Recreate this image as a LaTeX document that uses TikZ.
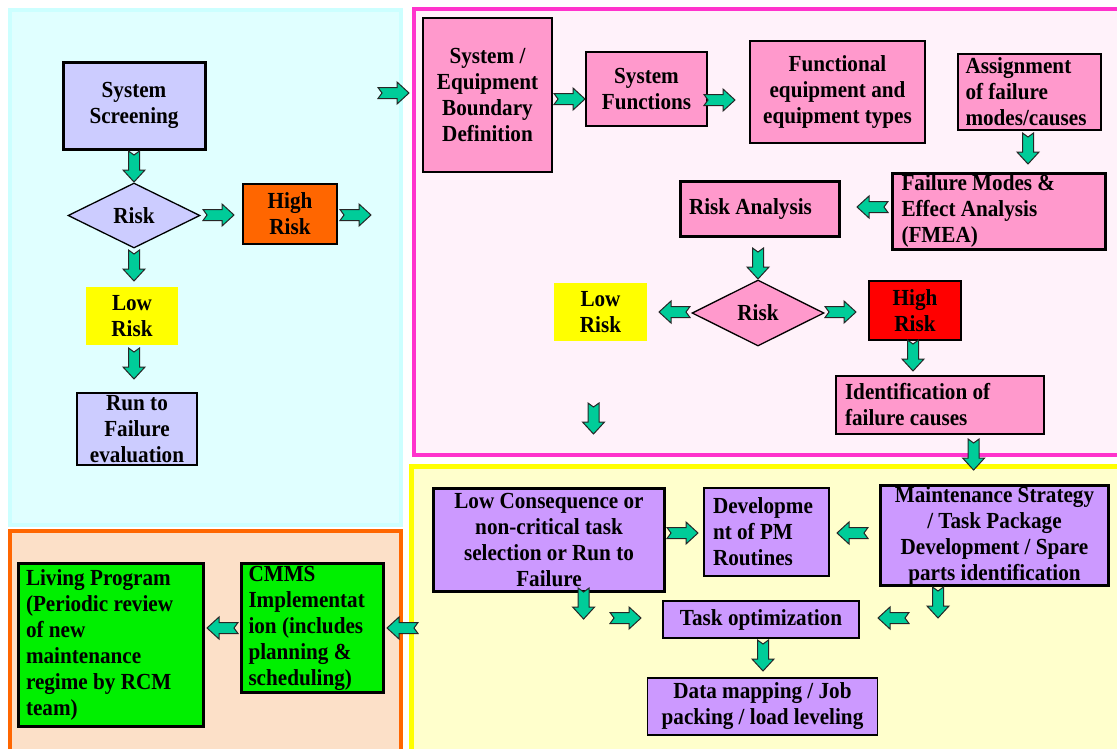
\documentclass[tikz,border=0pt]{standalone}
\usepackage{fontspec}
\setmainfont{Liberation Serif}[FakeStretch=0.92]
\usetikzlibrary{shapes.geometric}
\definecolor{cyanF}{RGB}{224,255,255}
\definecolor{cyanB}{RGB}{204,255,255}
\definecolor{pinkF}{RGB}{255,242,250}
\definecolor{pinkB}{RGB}{255,51,204}
\definecolor{yelF}{RGB}{255,255,204}
\definecolor{yelB}{RGB}{255,255,0}
\definecolor{oraF}{RGB}{252,224,200}
\definecolor{oraB}{RGB}{255,102,0}
\definecolor{lav}{RGB}{204,204,255}
\definecolor{pinkbox}{RGB}{255,153,204}
\definecolor{purp}{RGB}{204,153,255}
\definecolor{grn}{RGB}{0,240,0}
\definecolor{orangebox}{RGB}{255,102,0}
\definecolor{redbox}{RGB}{255,0,0}
\definecolor{yel}{RGB}{255,255,0}
\definecolor{teal}{RGB}{0,204,153}
\begin{document}
\begin{tikzpicture}[x=1pt,y=-1pt,
  txt/.style={font=\bfseries\fontsize{23}{26}\selectfont, inner sep=0pt, align=center},
  box/.style={txt, draw=black, line width=1.3pt},
  tbox/.style={box, line width=3pt},
  lft/.style={align=flush left},
  dia/.style={txt, diamond, draw=black, line width=1.3pt},
  arrowfill/.style={fill=teal, draw=black!85, line width=1pt, line join=miter},
  barrow/.pic={\path[arrowfill] (0,-5.5) -- (19,-5.5) -- (19,-11) -- (31,0) -- (19,11) -- (19,5.5) -- (0,5.5) -- (4,0) -- cycle;}
]
\useasboundingbox (0,0) rectangle (1117,748);
\fill[white] (0,0) rectangle (1117,748);
% panels
\draw[draw=cyanB, fill=cyanF, line width=4pt] (10,10) rectangle (400.5,524.5);
\draw[draw=pinkB, fill=pinkF, line width=4pt] (414,8.5) rectangle (1130,454.5);
\draw[draw=yelB, fill=yelF, line width=5pt] (411.5,466.5) rectangle (1130,760);
\draw[draw=oraB, fill=oraF, line width=4pt] (10,531) rectangle (400.5,760);

% left panel
\node[tbox, fill=lav, minimum width=142, minimum height=87] (screen) at (134,105.5) {System\\Screening};
\node[dia, fill=lav, minimum width=132, minimum height=65] (risk1) at (134,215.5) {Risk};
\node[box, fill=orangebox, minimum width=94, minimum height=60] (high1) at (290,214) {High\\Risk};
\node[txt, fill=yel, minimum width=92, minimum height=58] (low1) at (132,316) {Low\\Risk};
\node[box, fill=lav, minimum width=120, minimum height=72] (rtf) at (137,429) {};
\node[txt] (rtft) at (rtf.center) {Run to\\Failure\\evaluation};

\pic[rotate=-90] at (134,151) {barrow};
\pic at (203,215) {barrow};
\pic at (340,215) {barrow};
\pic[rotate=-90] at (134,250) {barrow};
\pic[rotate=-90] at (134,348) {barrow};
\pic at (378,93) {barrow};

% pink panel
\node[box, fill=pinkbox, minimum width=129, minimum height=154] (sebd) at (487.5,95) {System /\\Equipment\\Boundary\\Definition};
\node[box, fill=pinkbox, minimum width=121, minimum height=74] (sf) at (646.5,89) {System\\Functions};
\node[box, fill=pinkbox, minimum width=175, minimum height=102] (fe) at (837.5,92) {Functional\\equipment and\\equipment types};
\node[box, lft, fill=pinkbox, minimum width=143, minimum height=76, text width=128] (asg) at (1029.5,92) {Assignment\\of failure\\modes/causes};
\node[tbox, lft, fill=pinkbox, minimum width=213, minimum height=76, text width=195] (fmea) at (999,211) {Failure Modes \&\\Effect Analysis\\(FMEA)};
\node[tbox, lft, fill=pinkbox, minimum width=159, minimum height=55, text width=141] (ra) at (759.5,208.5) {Risk Analysis};
\node[dia, fill=pinkbox, minimum width=132, minimum height=66] (risk2) at (758,313) {Risk};
\node[txt, fill=yel, minimum width=93, minimum height=58] (low2) at (600.5,312) {Low\\Risk};
\node[box, fill=redbox, minimum width=92, minimum height=59] (high2) at (915,310.5) {High\\Risk};
\node[box, lft, fill=pinkbox, minimum width=208, minimum height=58, text width=190] (idf) at (940,405) {Identification of\\failure causes};

\pic at (554,99) {barrow};
\pic at (704,100) {barrow};
\pic[rotate=-90] at (1028,133) {barrow};
\pic[rotate=180] at (888,207) {barrow};
\pic[rotate=-90] at (758,248) {barrow};
\pic[rotate=180] at (690,312) {barrow};
\pic at (825,312) {barrow};
\pic[rotate=-90] at (913,340) {barrow};
\pic[rotate=-90] at (593.5,403) {barrow};
\pic[rotate=-90] at (973.6,439) {barrow};

% yellow panel
\node[tbox, fill=purp, minimum width=231, minimum height=103] (lc) at (549,540) {Low Consequence or\\non-critical task\\selection or Run to\\Failure};
\node[box, lft, fill=purp, minimum width=125, minimum height=88, text width=107] (pm) at (766.5,532) {Developme\\nt of PM\\Routines};
\node[tbox, fill=purp, minimum width=228, minimum height=100] (ms) at (994.5,535.5) {Maintenance Strategy\\/ Task Package\\Development / Spare\\parts identification};
\node[box, fill=purp, minimum width=196, minimum height=37] (to) at (761,619.5) {Task optimization};
\node[box, fill=purp, minimum width=230, minimum height=57] (dm) at (762.5,706.5) {Data mapping / Job\\packing / load leveling};

\pic at (667,533) {barrow};
\pic[rotate=180] at (868,533) {barrow};
\pic[rotate=-90] at (583.6,588) {barrow};
\pic at (610,618) {barrow};
\pic[rotate=180] at (909,618) {barrow};
\pic[rotate=-90] at (938,587) {barrow};
\pic[rotate=-90] at (763,640) {barrow};
\pic[rotate=180] at (418,628) {barrow};

% orange panel
\node[tbox, lft, fill=grn, minimum width=185, minimum height=163, text width=170] (lp) at (111,645) {Living Program\\(Periodic review\\of new\\maintenance\\regime by RCM\\team)};
\node[tbox, lft, fill=grn, minimum width=142, minimum height=129, text width=128] (cmms) at (312.5,628) {CMMS\\Implementat\\ion (includes\\planning \&\\scheduling)};
\pic[rotate=180] at (238,628) {barrow};
\end{tikzpicture}
\end{document}
